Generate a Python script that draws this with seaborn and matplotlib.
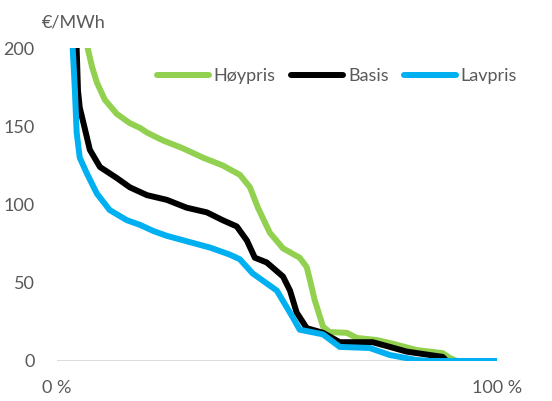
import numpy as np
import pandas as pd
import matplotlib
matplotlib.use("Agg")
import matplotlib.pyplot as plt
import seaborn as sns

# Duration curves: share of hours (%) vs. price (€/MWh)
hoy_x = [0, 5.5, 7.0, 8.0, 9.1, 10.9, 13.6, 16.6, 18.9, 20.5, 24.1, 28.6, 33.2, 37.7,
         41.6, 43.9, 45.7, 48.4, 51.4, 55.2, 56.8, 57.5, 58.6, 60.5, 62, 65.9, 68.2,
         72.7, 75.7, 81.8, 87.7, 89.3, 90.9, 100]
hoy_y = [400, 240, 200, 188, 178, 167, 158, 152, 149, 146, 141, 136, 130, 125,
         119, 111, 98, 82, 72, 66, 60, 52, 39, 22, 18.5, 18, 14.7,
         13.4, 11.5, 7, 5, 2, 0, 0]

basis_x = [0, 3.8, 4.5, 4.8, 5.2, 6.4, 7.5, 9.8, 13.6, 16.6, 20.5, 25, 29.5, 34.1,
           37.7, 40.9, 43.2, 45, 47.7, 51.4, 53, 54.5, 56.8, 60.5, 64.3, 71.8, 75.7,
           79.5, 87.7, 88.6, 100]
basis_y = [400, 240, 200, 173, 162, 148, 135, 124, 117, 111, 106, 103, 98, 95,
           90, 86, 77, 66, 63, 54, 45, 31, 21, 18, 12, 12, 9,
           6, 2.6, 0, 0]

lav_x = [0, 3.2, 3.6, 4.1, 4.5, 5.2, 6.8, 9.1, 12, 15.9, 18.9, 22, 25, 30.2, 34.8,
         39.3, 41.6, 44.5, 50, 53.6, 55.2, 60.5, 64.3, 71.1, 75.7, 81.8, 84.8, 100]
lav_y = [400, 240, 200, 173, 146, 130, 120, 107, 96.5, 90, 87, 83, 80, 76, 72.5,
         68, 65, 56, 45, 28, 20, 17, 9, 8.3, 3.8, 0.6, 0, 0]

series_names = ["Høypris", "Basis", "Lavpris"]
colors = ["#92D050", "#000000", "#00B0F0"]

df = pd.concat([
    pd.DataFrame({"andel": hoy_x, "pris": hoy_y, "serie": series_names[0]}),
    pd.DataFrame({"andel": basis_x, "pris": basis_y, "serie": series_names[1]}),
    pd.DataFrame({"andel": lav_x, "pris": lav_y, "serie": series_names[2]}),
], ignore_index=True)

sns.set_style("white")
plt.rcParams["font.family"] = ["Lato", "DejaVu Sans"]
text_color = "#595959"

fig = plt.figure(figsize=(5.52, 4.01), dpi=100)
ax = fig.add_axes([0.103, 0.0998, 0.797, 0.7802])

ax.axhline(0, color="#D9D9D9", lw=1.3, zorder=1)
sns.lineplot(data=df, x="andel", y="pris", hue="serie", hue_order=series_names,
             palette=colors, estimator=None, sort=False, lw=4.3,
             solid_capstyle="round", solid_joinstyle="round", ax=ax, zorder=3)

ax.set_xlim(0, 100)
ax.set_ylim(0, 200)
for s in ax.spines.values():
    s.set_visible(False)
ax.set_xticks([0, 100])
ax.set_xticklabels(["0 %", "100 %"])
ax.set_yticks([0, 50, 100, 150, 200])
ax.tick_params(axis="both", length=0, labelsize=13, labelcolor=text_color)
ax.tick_params(axis="y", pad=16)
ax.tick_params(axis="x", pad=14)
ax.set_xlabel("")
ax.set_ylabel("")
ax.grid(False)

fig.text(42 / 552, 1 - 22 / 401, "€/MWh", fontsize=13, color=text_color,
         ha="left", va="center")

leg = ax.legend(loc="center", bbox_to_anchor=(337 / 552, 1 - 76 / 401),
                bbox_transform=fig.transFigure, ncol=3, frameon=False,
                fontsize=13, handlelength=2.9, handletextpad=0.25,
                columnspacing=0.85, borderpad=0, borderaxespad=0)
for t in leg.get_texts():
    t.set_color(text_color)
for h in leg.get_lines():
    h.set_linewidth(4.3)
    h.set_solid_capstyle("round")

fig.savefig("out.png", dpi=100)
